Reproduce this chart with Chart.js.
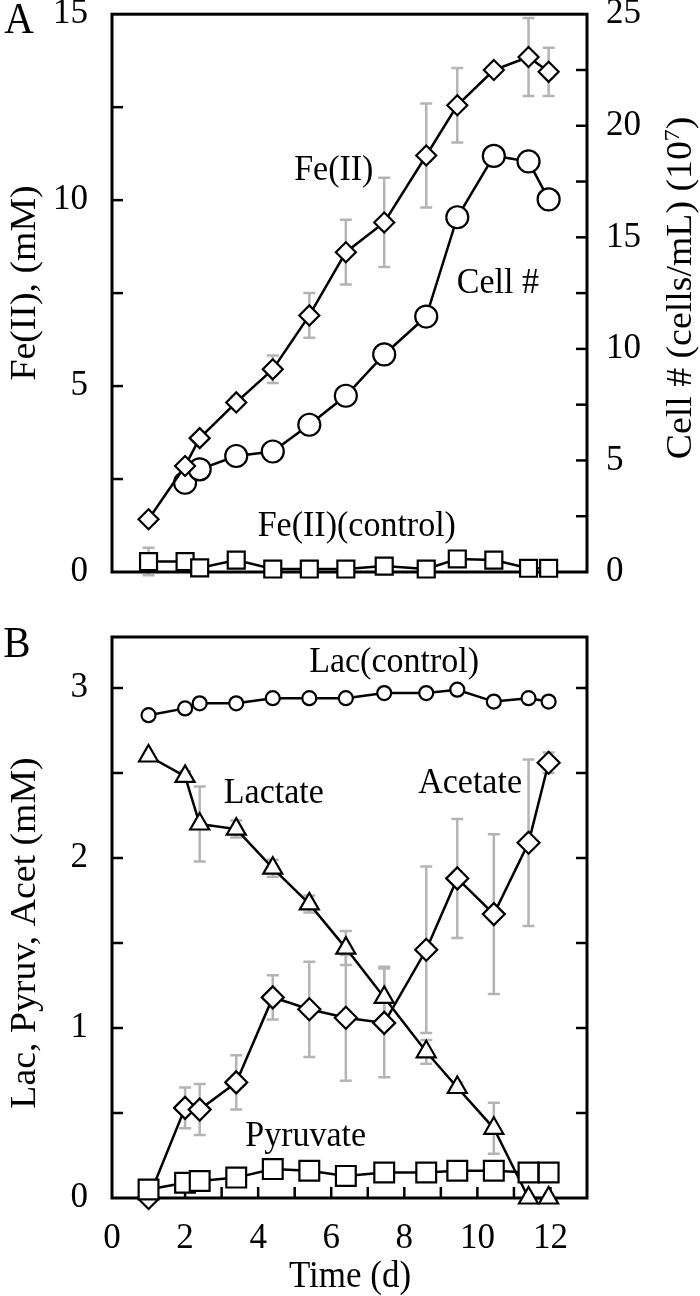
<!DOCTYPE html>
<html>
<head>
<meta charset="utf-8">
<script src="https://cdn.jsdelivr.net/npm/chart.js@4/dist/chart.umd.min.js"></script>
<style>
  body { margin: 0; background: #fff; width: 700px; height: 1296px; position: relative; overflow: hidden; }
  canvas { position: absolute; left: 0; }
  #chartA { top: 0; }
  #chartB { top: 605px; }
</style>
</head>
<body>
<canvas id="chartA" width="700" height="605"></canvas>
<canvas id="chartB" width="700" height="691"></canvas>
<script>
// time (d)
const days = [1, 2, 2.4, 3.4, 4.4, 5.4, 6.4, 7.45, 8.6, 9.45, 10.45, 11.4, 11.95];
const cellDays = [2, 2.4, 3.4, 4.4, 5.4, 6.4, 7.45, 8.6, 9.45, 10.45, 11.4, 11.95];

// panel A
const fe2 = [1.42, 2.85, 3.6, 4.56, 5.45, 6.9, 8.6, 9.4, 11.2, 12.55, 13.5, 13.85, 13.45];
const fe2Err = [0.05, 0.05, 0.05, 0.15, 0.37, 0.6, 0.87, 1.2, 1.4, 1.0, 0.1, 1.05, 0.65];
const cellCount = [4.0, 4.6, 5.2, 5.4, 6.6, 7.9, 9.75, 11.45, 15.9, 18.65, 18.4, 16.7];
const fe2Control = [0.28, 0.28, 0.11, 0.32, 0.08, 0.08, 0.08, 0.16, 0.08, 0.35, 0.32, 0.1, 0.1];
const fe2ControlErr = [0.37, 0, 0, 0.1, 0.1, 0.1, 0.1, 0.1, 0.1, 0.1, 0.1, 0.05, 0];

// panel B
const lacControl = [2.84, 2.88, 2.91, 2.91, 2.94, 2.94, 2.94, 2.97, 2.97, 2.99, 2.92, 2.94, 2.92];
const lactate = [2.6, 2.48, 2.2, 2.17, 1.94, 1.73, 1.47, 1.18, 0.86, 0.65, 0.41, 0.0, 0.0];
const lactateErr = [0, 0.03, 0.22, 0.05, 0.05, 0.05, 0.1, 0.18, 0.07, 0.03, 0.15, 0, 0];
const acetate = [0.0, 0.53, 0.52, 0.68, 1.18, 1.11, 1.06, 1.03, 1.46, 1.88, 1.67, 2.09, 2.56];
const acetateErr = [0, 0.12, 0.15, 0.16, 0.13, 0.28, 0.37, 0.32, 0.49, 0.35, 0.47, 0.49, 0.06];
const pyruvate = [0.05, 0.09, 0.1, 0.12, 0.17, 0.16, 0.13, 0.15, 0.15, 0.16, 0.16, 0.15, 0.15];

const xTicksB = [0, 2, 4, 6, 8, 10, 12];

const FONT = "'Liberation Serif', 'Times New Roman', serif";
const TICK_FONT = { family: FONT, size: 35 };
const STRETCH = 1.08; // the original type is a bit taller than it is wide

const pts = (xs, ys) => xs.map((x, i) => ({ x: x, y: ys[i] }));

function series(data, style, radius, extra) {
  return Object.assign({
    data: data,
    borderColor: "#000",
    borderWidth: 2.5,
    pointStyle: style,
    pointRadius: radius,
    pointBorderWidth: 2.2,
    pointBackgroundColor: "#fff",
    pointBorderColor: "#000",
    clip: false,
    tension: 0,
  }, extra || {});
}

// gray error bars, under the lines
const errorBars = {
  id: "errorBars",
  beforeDatasetsDraw(chart) {
    const ctx = chart.ctx;
    const xs = chart.scales.x;
    ctx.save();
    ctx.strokeStyle = "#b4b4b4";
    ctx.lineWidth = 2.5;
    chart.data.datasets.forEach((ds) => {
      if (!ds.errors) return;
      const ys = chart.scales[ds.yAxisID || "y"];
      ds.data.forEach((p, i) => {
        const e = ds.errors[i];
        if (!e) return;
        const px = xs.getPixelForValue(p.x);
        const top = ys.getPixelForValue(p.y + e);
        const bot = ys.getPixelForValue(p.y - e);
        ctx.beginPath();
        ctx.moveTo(px, top); ctx.lineTo(px, bot);
        ctx.moveTo(px - 6, top); ctx.lineTo(px + 6, top);
        ctx.moveTo(px - 6, bot); ctx.lineTo(px + 6, bot);
        ctx.stroke();
      });
    });
    ctx.restore();
  },
};

// box around the plot and inward tick marks
const frame = {
  id: "frame",
  beforeDatasetsDraw(chart, args, opts) {
    const ctx = chart.ctx;
    const a = chart.chartArea;
    ctx.save();
    ctx.strokeStyle = "#000";
    ctx.lineWidth = 3;
    ctx.strokeRect(a.left, a.top, a.right - a.left, a.bottom - a.top);
    ctx.lineWidth = 2.5;
    const len = 11;
    Object.values(chart.scales).forEach((s) => {
      if (s.axis === "x" && !opts.xTicks) return;
      s.ticks.forEach((t) => {
        if (t.value === s.min || t.value === s.max) return;
        const p = s.getPixelForValue(t.value);
        ctx.beginPath();
        if (s.axis === "x") {
          ctx.moveTo(p, a.bottom); ctx.lineTo(p, a.bottom - len);
        } else if (s.position === "left") {
          ctx.moveTo(a.left, p); ctx.lineTo(a.left + len, p);
        } else {
          ctx.moveTo(a.right, p); ctx.lineTo(a.right - len, p);
        }
        ctx.stroke();
      });
    });
    ctx.restore();
  },
};

// annotations (data coords) and axis titles (pixels)
const labels = {
  id: "labels",
  afterDraw(chart, args, opts) {
    const ctx = chart.ctx;
    ctx.save();
    ctx.fillStyle = "#000";
    ctx.textBaseline = "middle";
    ctx.textAlign = "center";
    (opts.notes || []).forEach((n) => {
      const s = chart.scales[n.axis || "y"];
      ctx.save();
      ctx.translate(chart.scales.x.getPixelForValue(n.x), s.getPixelForValue(n.y));
      ctx.scale(1, STRETCH);
      ctx.font = "34px " + FONT;
      ctx.fillText(n.text, 0, 0);
      ctx.restore();
    });
    (opts.titles || []).forEach((t) => {
      ctx.save();
      ctx.translate(t.x, t.y);
      if (t.rotate) {
        ctx.rotate(-Math.PI / 2);
        ctx.scale(STRETCH, 1);
      } else {
        ctx.scale(1, STRETCH);
      }
      const parts = t.parts || [[t.text, t.size || 35, 0]];
      let w = 0;
      parts.forEach((p) => { ctx.font = p[1] + "px " + FONT; w += ctx.measureText(p[0]).width; });
      let cx = -w / 2;
      ctx.textAlign = "left";
      parts.forEach((p) => {
        ctx.font = p[1] + "px " + FONT;
        ctx.fillText(p[0], cx, p[2]);
        cx += ctx.measureText(p[0]).width;
      });
      ctx.restore();
    });
    ctx.restore();
  },
};

const noPad = (s) => { s.paddingTop = 0; s.paddingBottom = 0; s.paddingLeft = 0; s.paddingRight = 0; };

new Chart(document.getElementById("chartA"), {
  type: "line",
  data: {
    datasets: [
      series(pts(days, fe2), "rectRot", 10, { errors: fe2Err }),
      series(pts(cellDays, cellCount), "circle", 11, { yAxisID: "y1" }),
      series(pts(days, fe2Control), "rect", 12, { errors: fe2ControlErr }),
    ],
  },
  options: {
    responsive: false,
    animation: false,
    events: [],
    layout: { padding: { top: 14, left: 0, right: 0, bottom: 0 } },
    plugins: {
      legend: { display: false },
      tooltip: { enabled: false },
      frame: { xTicks: false },
      labels: {
        notes: [
          { text: "Fe(II)", x: 6.07, y: 10.8 },
          { text: "Cell #", x: 10.56, y: 7.77 },
          { text: "Fe(II)(control)", x: 6.7, y: 1.24 },
        ],
        titles: [
          { text: "A", x: 19, y: 21, size: 41 },
          { text: "Fe(II), (mM)", x: 26, y: 283, rotate: true },
          { x: 682, y: 288, rotate: true,
            parts: [["Cell # (cells/mL) (10", 35, 0], ["7", 22, -9], [")", 35, 0]] },
        ],
      },
    },
    scales: {
      x: {
        type: "linear", min: 0, max: 13,
        ticks: { display: false },
        grid: { display: false, drawTicks: false },
        border: { display: false },
        afterFit: (s) => { s.height = 33; noPad(s); },
      },
      y: {
        position: "left", min: 0, max: 15,
        ticks: { stepSize: 2.5, autoSkip: false, padding: 24, color: "#000", font: TICK_FONT,
                 callback: (v) => (v % 5 === 0 ? v : "") },
        grid: { display: false, drawTicks: false },
        border: { display: false },
        afterFit: (s) => { s.width = 112; noPad(s); },
      },
      y1: {
        position: "right", min: 0, max: 25,
        ticks: { stepSize: 2.5, autoSkip: false, padding: 19, color: "#000", font: TICK_FONT,
                 callback: (v) => (v % 5 === 0 ? v : "") },
        grid: { display: false, drawTicks: false },
        border: { display: false },
        afterFit: (s) => { s.width = 113; noPad(s); },
      },
    },
  },
  plugins: [errorBars, frame, labels],
});

new Chart(document.getElementById("chartB"), {
  type: "line",
  data: {
    datasets: [
      series(pts(days, pyruvate), "rect", 14),
      series(pts(days, lactate), "triangle", 11, { errors: lactateErr }),
      series(pts(days, acetate), "rectRot", 11, { errors: acetateErr }),
      series(pts(days, lacControl), "circle", 7),
    ],
  },
  options: {
    responsive: false,
    animation: false,
    events: [],
    layout: { padding: { top: 32, left: 0, right: 0, bottom: 0 } },
    plugins: {
      legend: { display: false },
      tooltip: { enabled: false },
      frame: { xTicks: true },
      labels: {
        notes: [
          { text: "Lac(control)", x: 7.72, y: 3.15 },
          { text: "Lactate", x: 4.43, y: 2.38 },
          { text: "Acetate", x: 9.8, y: 2.44 },
          { text: "Pyruvate", x: 5.3, y: 0.36 },
        ],
        titles: [
          { text: "B", x: 17, y: 40, size: 41 },
          { text: "Lac, Pyruv, Acet (mM)", x: 26, y: 328, rotate: true },
          { text: "Time (d)", x: 350, y: 672 },
        ],
      },
    },
    scales: {
      x: {
        type: "linear", min: 0, max: 13,
        ticks: { stepSize: 1, autoSkip: false, maxRotation: 0, padding: 20, color: "#000", font: TICK_FONT,
                 callback: (v) => (xTicksB.includes(v) ? v : "") },
        grid: { display: false, drawTicks: false },
        border: { display: false },
        afterFit: (s) => { s.height = 98; noPad(s); },
      },
      y: {
        position: "left", min: 0, max: 3.3,
        ticks: { stepSize: 0.5, autoSkip: false, padding: 24, color: "#000", font: TICK_FONT,
                 callback: (v) => (Number.isInteger(v) ? v : "") },
        grid: { display: false, drawTicks: false },
        border: { display: false },
        afterFit: (s) => { s.width = 112; noPad(s); },
      },
      yR: {
        position: "right", min: 0, max: 3.3, display: true,
        ticks: { display: false },
        grid: { display: false, drawTicks: false },
        border: { display: false },
        afterFit: (s) => { s.width = 113; noPad(s); },
      },
    },
  },
  plugins: [errorBars, frame, labels],
});
</script>
</body>
</html>
